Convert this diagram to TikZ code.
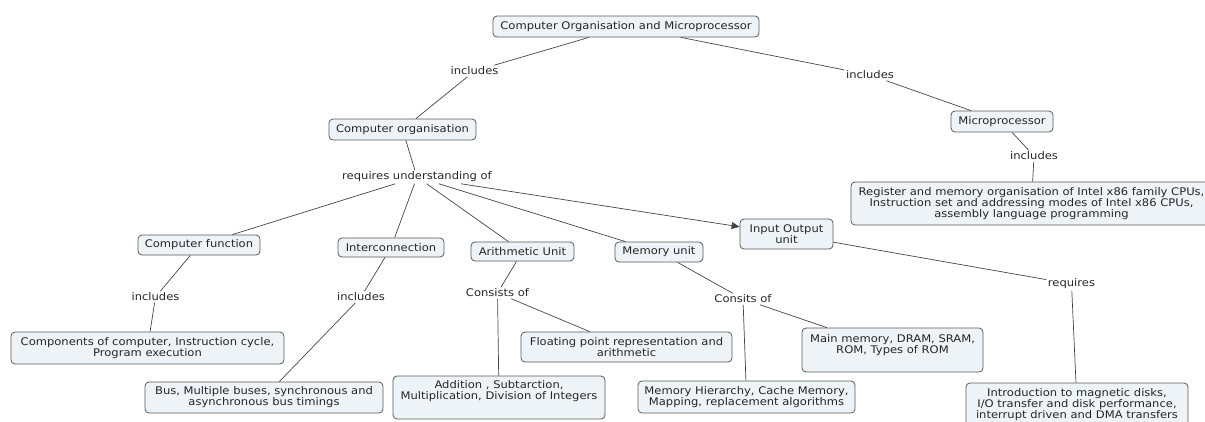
\documentclass[tikz,border=0pt]{standalone}
\usepackage{fontspec}
\setmainfont{DejaVu Sans}[FakeStretch=1.1]
\usetikzlibrary{arrows.meta}
\definecolor{boxfill}{HTML}{EDF3F6}
\definecolor{boxline}{HTML}{5A5A5A}
\definecolor{linkline}{HTML}{454545}

\begin{document}
\begin{tikzpicture}[x=1pt, y=-1pt,
    concept/.style={draw=boxline, fill=boxfill, rounded corners=4pt, line width=0.8pt,
        align=center, inner sep=2pt, text=black!85},
    link/.style={text=black!85, inner sep=1.5pt},
    connector/.style={draw=linkline, line width=0.7pt},
    every node/.style={font=\fontsize{10.5}{11}\selectfont}]
    \newcommand{\padbox}[1]{\rule[-#1]{0pt}{#1}}
    \useasboundingbox (0, 0) rectangle (1205, 421);

    % Top of the map
    \node[concept, minimum width=266, minimum height=21] (Top) at (626, 26.5) {Computer Organisation and Microprocessor};
    \node[concept, minimum width=147, minimum height=21] (Org) at (402.5, 129.5) {Computer organisation};
    \node[concept, minimum width=102, minimum height=21] (Micro) at (1002, 121.5) {Microprocessor};
    \node[concept, minimum width=361, minimum height=43] (Micro-list) at (1031.5, 203.5)
        {Register and memory organisation of Intel x86 family CPUs,\\ Instruction set and addressing modes of Intel x86 CPUs,\\ assembly language programming};

    % Units
    \node[concept, minimum width=122, minimum height=20] (Unit-1) at (199, 245) {Computer function};
    \node[concept, minimum width=106, minimum height=19] (Unit-2) at (391, 247.5) {Interconnection};
    \node[concept, minimum width=103, minimum height=19] (Unit-3) at (522.5, 251.5) {Arithmetic Unit};
    \node[concept, minimum width=88, minimum height=20] (Unit-4) at (659, 252) {Memory unit};
    \node[concept, minimum width=93, minimum height=30] (Unit-5) at (786.5, 234) {Input Output\\ unit};

    % Topics
    \node[concept, minimum width=273, minimum height=32] (Topic-1) at (147.5, 348) {Components of computer, Instruction cycle,\\ Program execution};
    \node[concept, minimum width=238, minimum height=31] (Topic-2) at (264, 397.5) {Bus, Multiple buses, synchronous and\\ asynchronous bus timings};
    \node[concept, minimum width=212, minimum height=43] (Topic-3) at (499, 397.5) {Addition , Subtarction,\\ Multiplication, Division of Integers\padbox{14pt}};
    \node[concept, minimum width=211, minimum height=30] (Topic-4) at (626.5, 347) {Floating point representation and\\ arithmetic};
    \node[concept, minimum width=217, minimum height=32] (Topic-5) at (746.5, 397) {Memory Hierarchy, Cache Memory,\\ Mapping, replacement algorithms};
    \node[concept, minimum width=181, minimum height=44] (Topic-6) at (892.5, 350) {Main memory, DRAM, SRAM,\\ ROM, Types of ROM\padbox{11pt}};
    \node[concept, minimum width=222, minimum height=44] (Topic-7) at (1077, 405) {Introduction to magnetic disks,\\ I/O transfer and disk performance,\\ interrupt driven and DMA transfers};

    % Linking phrases
    \node[link] (Inc-1) at (474.5, 71) {includes};
    \node[link] (Inc-2) at (870, 75) {includes};
    \node[link] (Inc-3) at (1034, 156) {includes};
    \node[link] (Req) at (417, 177) {requires understanding of};
    \node[link] (Inc-4) at (155.5, 297) {includes};
    \node[link] (Inc-5) at (361, 297) {includes};
    \node[link] (Cons-1) at (497.5, 293) {Consists of};
    \node[link] (Cons-2) at (743, 299) {Consits of};
    \node[link] (Reqs) at (1071.5, 284) {requires};

    % Connect concepts
    \foreach \a/\b in {Top/Inc-1, Inc-1/Org, Top/Inc-2, Inc-2/Micro, Micro/Inc-3, Inc-3/Micro-list,
            Org/Req, Req/Unit-1, Req/Unit-2, Req/Unit-3, Req/Unit-4,
            Unit-1/Inc-4, Inc-4/Topic-1, Unit-2/Inc-5, Inc-5/Topic-2,
            Unit-3/Cons-1, Cons-1/Topic-3, Cons-1/Topic-4,
            Unit-4/Cons-2, Cons-2/Topic-5, Cons-2/Topic-6,
            Unit-5/Reqs, Reqs/Topic-7} {
            \draw[connector] (\a) -- (\b);
        }
    \draw[connector, -{Triangle[length=8pt, width=7pt]}] (Req) -- (Unit-5);
\end{tikzpicture}
\end{document}
